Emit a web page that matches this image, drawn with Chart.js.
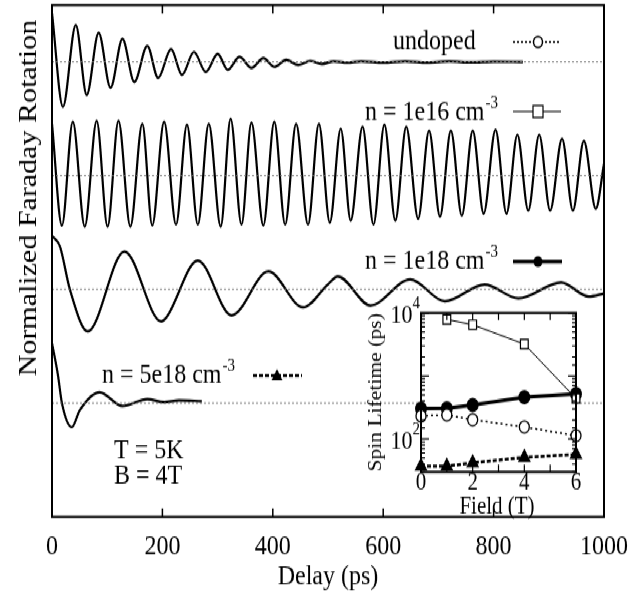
<!DOCTYPE html>
<html>
<head>
<meta charset="utf-8">
<script src="https://cdn.jsdelivr.net/npm/chart.js@4.4.0/dist/chart.umd.min.js"></script>
<style>
  html, body { margin: 0; padding: 0; background: #fff; overflow: hidden; width: 639px; height: 594px; }
  #outer { position: relative; width: 639px; height: 594px; }
  #wrap { position: absolute; left: 0; top: 0; width: 639px; height: 495px; transform: scaleY(1.2); transform-origin: 0 0; }
  #wrap canvas { position: absolute; left: 0; top: 0; width: 639px; height: 495px; }
</style>
</head>
<body>
<div id="outer">
<div id="wrap">
  <canvas id="main" width="639" height="495"></canvas>
  <canvas id="inset" width="639" height="495"></canvas>
</div>
</div>
<script>
// main panel: delay (ps) and offset rotation at the extrema
const delayUndoped = [0, 19.8, 43.1, 62.9, 84.5, 106.1, 127.6, 149.2, 172.6, 192.3, 215.7, 235.5, 257.1, 278.6, 300.2, 318.2, 339.7, 361.3, 382.9, 402.7, 424.3, 445.9, 467.5, 489, 510.5, 535, 560, 600, 640, 680, 720, 760, 800, 853];
const rotUndoped = [3.43, 2.605, 3.325, 2.71, 3.255, 2.772, 3.202, 2.824, 3.141, 2.859, 3.114, 2.886, 3.088, 2.912, 3.07, 2.93, 3.044, 2.947, 3.035, 2.956, 3.018, 2.974, 3.009, 2.982, 3.006, 2.993, 3.005, 2.994, 3.006, 2.995, 3.004, 2.997, 3.003, 3.0];

const delay1e16 = [0, 18, 37.7, 59.3, 80.9, 100.7, 120.4, 142, 163.6, 181.6, 203.1, 224.7, 244.5, 264.2, 284, 305.6, 323.6, 343.3, 361.3, 382.9, 402.7, 422.4, 442.2, 463.8, 483.5, 503.3, 523.1, 541.1, 562.6, 582.4, 602.2, 622, 641.7, 663.3, 683.1, 702.9, 722.6, 742.4, 762.2, 782, 803.5, 823.3, 843.1, 862.8, 882.6, 902.4, 924, 943.7, 963.5, 985.1, 1000];
const rot1e16 = [2.457, 1.561, 2.475, 1.552, 2.483, 1.552, 2.483, 1.552, 2.457, 1.561, 2.475, 1.569, 2.448, 1.569, 2.457, 1.552, 2.501, 1.569, 2.466, 1.561, 2.475, 1.569, 2.457, 1.569, 2.457, 1.587, 2.413, 1.605, 2.431, 1.569, 2.448, 1.605, 2.431, 1.622, 2.396, 1.64, 2.396, 1.649, 2.396, 1.666, 2.404, 1.666, 2.36, 1.693, 2.36, 1.693, 2.325, 1.693, 2.307, 1.71, 2.105];

const delay1e18 = [1.3, 14.4, 32.4, 64.7, 131.2, 197.7, 208.5, 264.2, 325.4, 391.9, 454.8, 499.7, 517.7, 577, 648.9, 711.8, 783.7, 844.9, 922.2, 972.5, 1000];
const rot1e18 = [1.466, 1.378, 1.0, 0.631, 1.334, 0.719, 0.763, 1.255, 0.772, 1.158, 0.842, 1.044, 1.114, 0.859, 1.088, 0.895, 1.044, 0.921, 1.062, 0.938, 0.965];

const delay5e18 = [0, 10.8, 18, 36, 50.3, 86.3, 127.6, 172.6, 203, 230, 271.4];
const rot5e18 = [0.527, 0.246, 0, -0.211, -0.062, 0.097, -0.026, 0.035, 0.009, 0.026, 0.018];

const baselines = [3, 2, 1, 0];
const delayTicks = [0, 200, 400, 600, 800, 1000];

// inset: spin lifetime (ps) against field (T)
const fieldT = [0, 1, 2, 4, 6];
const lifeUndoped = [232, 240, 202, 155, 113];
const life1e16 = [null, 7900, 6500, 3200, 440];
const life1e18 = [303, 307, 347, 462, 518];
const life5e18 = [37, 37, 42, 51, 57];

const SERIF = "'Liberation Serif', 'Times New Roman', serif";

function pts(xs, ys) {
  return xs.map((x, i) => ({ x: x, y: ys[i] }));
}

function drawSymbol(ctx, kind, cx, cy) {
  ctx.save();
  ctx.strokeStyle = "#000";
  ctx.fillStyle = "#000";
  ctx.beginPath();
  if (kind === "undoped") {
    ctx.lineWidth = 1.5;
    ctx.setLineDash([2, 2]);
    ctx.moveTo(cx - 25, cy); ctx.lineTo(cx + 23, cy); ctx.stroke();
    ctx.setLineDash([]);
    ctx.beginPath(); ctx.fillStyle = "#fff";
    ctx.arc(cx, cy, 4.5, 0, Math.PI * 2); ctx.fill(); ctx.stroke();
  } else if (kind === "1e16") {
    ctx.lineWidth = 1.2;
    ctx.moveTo(cx - 25, cy); ctx.lineTo(cx + 23, cy); ctx.stroke();
    ctx.fillStyle = "#fff";
    ctx.fillRect(cx - 5, cy - 5, 10, 10); ctx.strokeRect(cx - 5, cy - 5, 10, 10);
  } else if (kind === "1e18") {
    ctx.lineWidth = 3;
    ctx.moveTo(cx - 25, cy); ctx.lineTo(cx + 24, cy); ctx.stroke();
    ctx.beginPath(); ctx.arc(cx, cy, 4.5, 0, Math.PI * 2); ctx.fill();
  } else {
    ctx.lineWidth = 2.5;
    ctx.setLineDash([4, 2]);
    ctx.moveTo(cx - 24, cy); ctx.lineTo(cx + 25, cy); ctx.stroke();
    ctx.setLineDash([]);
    ctx.beginPath();
    ctx.moveTo(cx, cy - 5.5); ctx.lineTo(cx + 5.5, cy + 4); ctx.lineTo(cx - 5.5, cy + 4); ctx.closePath(); ctx.fill();
  }
  ctx.restore();
}

function drawDensity(ctx, label, x, y) {
  ctx.font = "24px " + SERIF;
  ctx.textBaseline = "middle";
  ctx.textAlign = "left";
  ctx.fillText(label + " cm", x, y);
  const w = ctx.measureText(label + " cm").width;
  ctx.font = "15px " + SERIF;
  ctx.fillText("-3", w + x + 1, y - 8);
}

const mainDecor = {
  id: "mainDecor",
  afterDraw(chart) {
    const ctx = chart.ctx;
    const a = chart.chartArea;
    const xs = chart.scales.x;
    ctx.save();
    ctx.strokeStyle = "#000";
    ctx.lineWidth = 2;
    ctx.strokeRect(a.left, a.top, a.right - a.left, a.bottom - a.top);
    ctx.lineWidth = 1.5;
    delayTicks.slice(1, -1).forEach(v => {
      const px = xs.getPixelForValue(v);
      ctx.beginPath();
      ctx.moveTo(px, a.bottom); ctx.lineTo(px, a.bottom - 7);
      ctx.moveTo(px, a.top); ctx.lineTo(px, a.top + 7);
      ctx.stroke();
    });

    ctx.fillStyle = "#000";
    // y axis title
    ctx.save();
    ctx.translate(29, 165);
    ctx.rotate(-Math.PI / 2);
    ctx.font = "25px " + SERIF;
    ctx.textAlign = "center";
    ctx.textBaseline = "middle";
    ctx.fillText("Normalized Faraday Rotation", 0, 0);
    ctx.restore();

    // series labels and their keys
    ctx.font = "24px " + SERIF;
    ctx.textBaseline = "middle";
    ctx.textAlign = "left";
    ctx.fillText("undoped", 393, 35);
    drawSymbol(ctx, "undoped", 538, 35);
    drawDensity(ctx, "n = 1e16", 365, 94);
    drawSymbol(ctx, "1e16", 538, 93);
    drawDensity(ctx, "n = 1e18", 365, 218);
    drawSymbol(ctx, "1e18", 538, 218);
    drawDensity(ctx, "n = 5e18", 102, 313);
    drawSymbol(ctx, "5e18", 277, 313);

    ctx.font = "24px " + SERIF;
    ctx.fillText("T = 5K", 114, 376);
    ctx.fillText("B = 4T", 114, 397);
    ctx.restore();
  }
};

const traceStyle = {
  borderColor: "#000",
  borderWidth: 2.2,
  pointRadius: 0,
  fill: false,
  cubicInterpolationMode: "monotone"
};

const baseSets = baselines.map(b => ({
  data: [{ x: 0, y: b }, { x: 1000, y: b }],
  borderColor: "#777",
  borderWidth: 1,
  borderDash: [2, 2],
  pointRadius: 0
}));

new Chart(document.getElementById("main"), {
  type: "line",
  data: {
    datasets: baseSets.concat([
      Object.assign({ data: pts(delayUndoped, rotUndoped) }, traceStyle),
      Object.assign({ data: pts(delay1e16, rot1e16) }, traceStyle),
      Object.assign({ data: pts(delay1e18, rot1e18) }, traceStyle),
      Object.assign({ data: pts(delay5e18, rot5e18) }, traceStyle)
    ])
  },
  options: {
    responsive: false,
    animation: false,
    devicePixelRatio: 1,
    layout: { padding: { left: 0, right: 30, top: 4.2, bottom: 0 } },
    plugins: { legend: { display: false }, tooltip: { enabled: false } },
    scales: {
      x: {
        type: "linear",
        min: 0,
        max: 1000,
        afterBuildTicks: (s) => { s.ticks = delayTicks.map(v => ({ value: v })); },
        afterFit: (s) => { s.height = 64.2; },
        grid: { display: false, drawTicks: false },
        border: { display: false },
        ticks: { color: "#000", padding: 11, maxRotation: 0, font: { family: SERIF, size: 24 }, callback: (v) => String(v) },
        title: { display: true, text: "Delay (ps)", color: "#000", padding: 0, font: { family: SERIF, size: 24 } }
      },
      y: {
        min: -1,
        max: 3.5,
        afterFit: (s) => { s.width = 52; },
        grid: { display: false, drawTicks: false },
        border: { display: false },
        ticks: { display: false }
      }
    }
  },
  plugins: [mainDecor]
});

const insetDecor = {
  id: "insetDecor",
  beforeDatasetsDraw(chart) {
    const ctx = chart.ctx;
    const a = chart.chartArea;
    ctx.save();
    ctx.fillStyle = "#fff";
    ctx.fillRect(a.left, a.top, a.right - a.left, a.bottom - a.top);
    ctx.restore();
  },
  afterDraw(chart) {
    const ctx = chart.ctx;
    const a = chart.chartArea;
    const xs = chart.scales.x;
    const ys = chart.scales.y;
    ctx.save();
    ctx.strokeStyle = "#000";
    ctx.fillStyle = "#000";
    ctx.lineWidth = 1.2;
    ys.ticks.forEach(t => {
      const py = ys.getPixelForValue(t.value);
      const lg = Math.log10(t.value);
      const len = Math.abs(lg - Math.round(lg)) < 1e-6 ? 8 : 4;
      ctx.beginPath();
      ctx.moveTo(a.left, py); ctx.lineTo(a.left + len, py);
      ctx.moveTo(a.right, py); ctx.lineTo(a.right - len, py);
      ctx.stroke();
    });
    for (let v = 0; v <= 6; v++) {
      const px = xs.getPixelForValue(v);
      ctx.beginPath();
      ctx.moveTo(px, a.bottom); ctx.lineTo(px, a.bottom - 6);
      ctx.moveTo(px, a.top); ctx.lineTo(px, a.top + 6);
      ctx.stroke();
    }
    ctx.lineWidth = 2;
    ctx.strokeRect(a.left, a.top, a.right - a.left, a.bottom - a.top);

    ctx.textBaseline = "middle";
    ctx.textAlign = "center";
    ctx.font = "21px " + SERIF;
    [0, 2, 4, 6].forEach(v => ctx.fillText(String(v), xs.getPixelForValue(v), 402.5));
    ctx.fillText("Field (T)", 497, 422.5);

    [[100, "2"], [10000, "4"]].forEach(([v, e]) => {
      const py = ys.getPixelForValue(v);
      ctx.font = "15px " + SERIF;
      ctx.textAlign = "right";
      ctx.fillText(e, a.left - 1, py - 8);
      const ew = ctx.measureText(e).width;
      ctx.font = "22px " + SERIF;
      ctx.fillText("10", a.left - 1 - ew, py + 2);
    });

    ctx.save();
    ctx.translate(376, 327);
    ctx.rotate(-Math.PI / 2);
    ctx.font = "18px " + SERIF;
    ctx.textAlign = "center";
    ctx.fillText("Spin Lifetime (ps)", 0, 0);
    ctx.restore();
    ctx.restore();
  }
};

new Chart(document.getElementById("inset"), {
  type: "line",
  data: {
    labels: fieldT,
    datasets: [
      {
        data: pts(fieldT, lifeUndoped), borderColor: "#000", borderWidth: 1.5, borderDash: [2, 3],
        pointStyle: "circle", pointRadius: 5, pointBackgroundColor: "#fff", pointBorderColor: "#000", pointBorderWidth: 1.3, clip: false
      },
      {
        data: pts(fieldT, life1e16), borderColor: "#000", borderWidth: 1, spanGaps: true,
        pointStyle: "rect", pointRadius: 5.5, pointBackgroundColor: "#fff", pointBorderColor: "#000", pointBorderWidth: 1.2, clip: false
      },
      {
        data: pts(fieldT, life1e18), borderColor: "#000", borderWidth: 3,
        pointStyle: "circle", pointRadius: 4.5, pointBackgroundColor: "#000", pointBorderColor: "#000", clip: false
      },
      {
        data: pts(fieldT, life5e18), borderColor: "#000", borderWidth: 2.5, borderDash: [4, 2],
        pointStyle: "triangle", pointRadius: 5, pointBackgroundColor: "#000", pointBorderColor: "#000", clip: false
      }
    ]
  },
  options: {
    responsive: false,
    animation: false,
    devicePixelRatio: 1,
    layout: { padding: { left: 421, right: 63, top: 260.8, bottom: 101.7 } },
    plugins: { legend: { display: false }, tooltip: { enabled: false } },
    scales: {
      x: {
        type: "linear", min: 0, max: 6,
        afterFit: (s) => { s.height = 0; },
        grid: { display: false, drawTicks: false }, border: { display: false }, ticks: { display: false }
      },
      y: {
        type: "logarithmic", min: 30, max: 10000,
        afterFit: (s) => { s.width = 0; },
        grid: { display: false, drawTicks: false }, border: { display: false }, ticks: { display: false }
      }
    }
  },
  plugins: [insetDecor]
});
</script>
</body>
</html>
